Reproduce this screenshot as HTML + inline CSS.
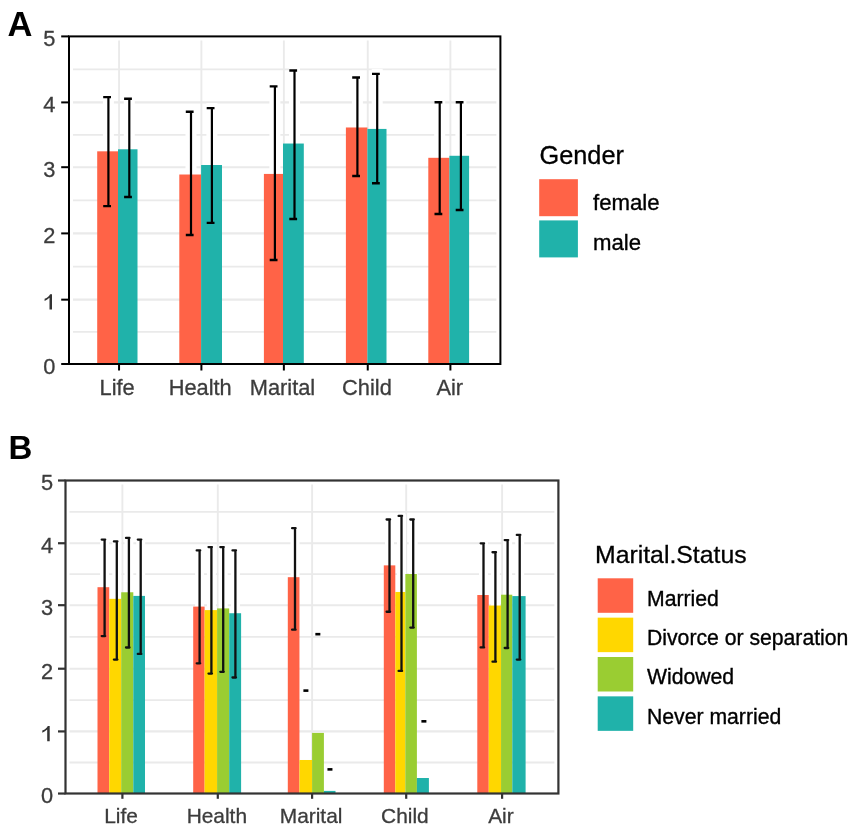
<!DOCTYPE html>
<html><head><meta charset="utf-8"><style>
html,body{margin:0;padding:0;background:#fff;}
body{width:854px;height:833px;overflow:hidden;}
svg{display:block;filter:blur(0.45px);}
text{font-family:"Liberation Sans",sans-serif;}
.ax{font-size:21.8px;fill:#3c3c3c;stroke:#3c3c3c;stroke-width:0.3px;}
.axb{font-size:20.9px;fill:#3c3c3c;stroke:#3c3c3c;stroke-width:0.3px;}
.tag{font-size:33px;font-weight:bold;fill:#000;}
.tagA{font-size:34.5px;font-weight:bold;fill:#000;}
.lt{font-size:25.3px;fill:#000;stroke:#000;stroke-width:0.3px;}
.ll{font-size:22.2px;fill:#000;stroke:#000;stroke-width:0.35px;}
.lt2{font-size:24.8px;fill:#000;stroke:#000;stroke-width:0.3px;}
.ll2{font-size:21.2px;fill:#000;stroke:#000;stroke-width:0.35px;}
</style></head><body>
<svg width="854" height="833" viewBox="0 0 854 833">
<rect width="854" height="833" fill="#fff"/>
<line x1="73" y1="331.83" x2="496.4" y2="331.83" stroke="#eaeaea" stroke-width="1.8"/>
<line x1="73" y1="299.66" x2="496.4" y2="299.66" stroke="#eaeaea" stroke-width="2.1"/>
<line x1="73" y1="266.53" x2="496.4" y2="266.53" stroke="#eaeaea" stroke-width="1.8"/>
<line x1="73" y1="233.4" x2="496.4" y2="233.4" stroke="#eaeaea" stroke-width="2.1"/>
<line x1="73" y1="200.3" x2="496.4" y2="200.3" stroke="#eaeaea" stroke-width="1.8"/>
<line x1="73" y1="167.2" x2="496.4" y2="167.2" stroke="#eaeaea" stroke-width="2.1"/>
<line x1="73" y1="134.8" x2="496.4" y2="134.8" stroke="#eaeaea" stroke-width="1.8"/>
<line x1="73" y1="102.4" x2="496.4" y2="102.4" stroke="#eaeaea" stroke-width="2.1"/>
<line x1="73" y1="69.4" x2="496.4" y2="69.4" stroke="#eaeaea" stroke-width="1.8"/>
<line x1="119.05" y1="40.4" x2="119.05" y2="360" stroke="#eaeaea" stroke-width="1.9"/>
<line x1="201.4" y1="40.4" x2="201.4" y2="360" stroke="#eaeaea" stroke-width="1.9"/>
<line x1="283.87" y1="40.4" x2="283.87" y2="360" stroke="#eaeaea" stroke-width="1.9"/>
<line x1="367.75" y1="40.4" x2="367.75" y2="360" stroke="#eaeaea" stroke-width="1.9"/>
<line x1="450.4" y1="40.4" x2="450.4" y2="360" stroke="#eaeaea" stroke-width="1.9"/>
<rect x="102.9" y="92.09" width="11" height="119.06" fill="#fff"/>
<rect x="123.8" y="93.73" width="11" height="108.25" fill="#fff"/>
<rect x="185.5" y="106.82" width="11" height="133.14" fill="#fff"/>
<rect x="206.4" y="103.09" width="11" height="124.76" fill="#fff"/>
<rect x="269.4" y="81.41" width="11" height="183.58" fill="#fff"/>
<rect x="289" y="65.56" width="11" height="158.42" fill="#fff"/>
<rect x="351.9" y="72.57" width="11" height="108.45" fill="#fff"/>
<rect x="371.7" y="68.84" width="11" height="119.38" fill="#fff"/>
<rect x="434.2" y="97.26" width="11" height="121.74" fill="#fff"/>
<rect x="455.4" y="97.26" width="11" height="117.81" fill="#fff"/>
<rect x="97.2" y="151.32" width="20.8" height="212.68" fill="#FF6347"/>
<rect x="118" y="149.29" width="19.5" height="214.71" fill="#20B2AA"/>
<rect x="179.3" y="174.51" width="21.8" height="189.49" fill="#FF6347"/>
<rect x="201.1" y="165.01" width="20.9" height="198.99" fill="#20B2AA"/>
<rect x="263.9" y="173.92" width="19.1" height="190.08" fill="#FF6347"/>
<rect x="283" y="143.53" width="20.8" height="220.47" fill="#20B2AA"/>
<rect x="345.9" y="127.48" width="21.5" height="236.52" fill="#FF6347"/>
<rect x="367.4" y="128.92" width="19.1" height="235.08" fill="#20B2AA"/>
<rect x="428.3" y="157.81" width="21.1" height="206.19" fill="#FF6347"/>
<rect x="449.4" y="155.78" width="19.7" height="208.22" fill="#20B2AA"/>
<path d="M108.4 97.09V206.14" stroke="#000" stroke-width="2.2" fill="none"/>
<path d="M103.2 97.09H111M103.2 206.14H111" stroke="#000" stroke-width="2.4" fill="none"/>
<path d="M129.3 98.73V196.98" stroke="#000" stroke-width="2.2" fill="none"/>
<path d="M124.1 98.73H131.9M124.1 196.98H131.9" stroke="#000" stroke-width="2.4" fill="none"/>
<path d="M191 111.82V234.97" stroke="#000" stroke-width="2.2" fill="none"/>
<path d="M185.8 111.82H193.6M185.8 234.97H193.6" stroke="#000" stroke-width="2.4" fill="none"/>
<path d="M211.9 108.09V222.85" stroke="#000" stroke-width="2.2" fill="none"/>
<path d="M206.7 108.09H214.5M206.7 222.85H214.5" stroke="#000" stroke-width="2.4" fill="none"/>
<path d="M274.9 86.41V259.99" stroke="#000" stroke-width="2.2" fill="none"/>
<path d="M269.7 86.41H277.5M269.7 259.99H277.5" stroke="#000" stroke-width="2.4" fill="none"/>
<path d="M294.5 70.56V218.98" stroke="#000" stroke-width="2.2" fill="none"/>
<path d="M289.3 70.56H297.1M289.3 218.98H297.1" stroke="#000" stroke-width="2.4" fill="none"/>
<path d="M357.4 77.57V176.01" stroke="#000" stroke-width="2.2" fill="none"/>
<path d="M352.2 77.57H360M352.2 176.01H360" stroke="#000" stroke-width="2.4" fill="none"/>
<path d="M377.2 73.84V183.22" stroke="#000" stroke-width="2.2" fill="none"/>
<path d="M372 73.84H379.8M372 183.22H379.8" stroke="#000" stroke-width="2.4" fill="none"/>
<path d="M439.7 102.26V214" stroke="#000" stroke-width="2.2" fill="none"/>
<path d="M434.5 102.26H442.3M434.5 214H442.3" stroke="#000" stroke-width="2.4" fill="none"/>
<path d="M460.9 102.26V210.07" stroke="#000" stroke-width="2.2" fill="none"/>
<path d="M455.7 102.26H463.5M455.7 210.07H463.5" stroke="#000" stroke-width="2.4" fill="none"/>
<rect x="69" y="36.4" width="431.4" height="327.6" fill="none" stroke="#000" stroke-width="2"/>
<line x1="61.2" y1="364" x2="69" y2="364" stroke="#000" stroke-width="2"/>
<text x="55.3" y="373.9" text-anchor="end" class="ax">0</text>
<line x1="61.2" y1="299.66" x2="69" y2="299.66" stroke="#000" stroke-width="2"/>
<path d="M49.5 309.56H52V294.16H50.1C49.4 295.96 47.4 297.66 44.6 298.76V300.96C46.4 300.26 48.3 298.96 49.5 297.86Z" fill="#333"/>
<line x1="61.2" y1="233.4" x2="69" y2="233.4" stroke="#000" stroke-width="2"/>
<text x="55.3" y="243.3" text-anchor="end" class="ax">2</text>
<line x1="61.2" y1="167.2" x2="69" y2="167.2" stroke="#000" stroke-width="2"/>
<text x="55.3" y="177.1" text-anchor="end" class="ax">3</text>
<line x1="61.2" y1="102.4" x2="69" y2="102.4" stroke="#000" stroke-width="2"/>
<text x="55.3" y="112.3" text-anchor="end" class="ax">4</text>
<line x1="61.2" y1="36.4" x2="69" y2="36.4" stroke="#000" stroke-width="2"/>
<text x="55.3" y="46.3" text-anchor="end" class="ax">5</text>
<line x1="119.05" y1="364" x2="119.05" y2="370.5" stroke="#000" stroke-width="2"/>
<text x="117.15" y="395.4" text-anchor="middle" class="ax">Life</text>
<line x1="201.4" y1="364" x2="201.4" y2="370.5" stroke="#000" stroke-width="2"/>
<text x="200.15" y="395.4" text-anchor="middle" class="ax">Health</text>
<line x1="283.87" y1="364" x2="283.87" y2="370.5" stroke="#000" stroke-width="2"/>
<text x="282.47" y="395.4" text-anchor="middle" class="ax">Marital</text>
<line x1="367.75" y1="364" x2="367.75" y2="370.5" stroke="#000" stroke-width="2"/>
<text x="366.95" y="395.4" text-anchor="middle" class="ax">Child</text>
<line x1="450.4" y1="364" x2="450.4" y2="370.5" stroke="#000" stroke-width="2"/>
<text x="449.75" y="395.4" text-anchor="middle" class="ax">Air</text>
<text x="7.4" y="35.8" class="tagA">A</text>
<text x="539.5" y="163.9" class="lt">Gender</text>
<rect x="539.2" y="179.2" width="38.7" height="37" fill="#FF6347"/>
<rect x="539.2" y="220.4" width="38.7" height="37" fill="#20B2AA"/>
<text x="593" y="209.5" class="ll">female</text>
<text x="593" y="249.6" class="ll">male</text>
<line x1="69.5" y1="762.48" x2="554.4" y2="762.48" stroke="#eaeaea" stroke-width="1.8"/>
<line x1="69.5" y1="731.42" x2="554.4" y2="731.42" stroke="#eaeaea" stroke-width="2.1"/>
<line x1="69.5" y1="700.07" x2="554.4" y2="700.07" stroke="#eaeaea" stroke-width="1.8"/>
<line x1="69.5" y1="668.71" x2="554.4" y2="668.71" stroke="#eaeaea" stroke-width="2.1"/>
<line x1="69.5" y1="636.95" x2="554.4" y2="636.95" stroke="#eaeaea" stroke-width="1.8"/>
<line x1="69.5" y1="605.19" x2="554.4" y2="605.19" stroke="#eaeaea" stroke-width="2.1"/>
<line x1="69.5" y1="574.22" x2="554.4" y2="574.22" stroke="#eaeaea" stroke-width="1.8"/>
<line x1="69.5" y1="543.24" x2="554.4" y2="543.24" stroke="#eaeaea" stroke-width="2.1"/>
<line x1="69.5" y1="511.87" x2="554.4" y2="511.87" stroke="#eaeaea" stroke-width="1.8"/>
<line x1="122.4" y1="484.5" x2="122.4" y2="789.5" stroke="#eaeaea" stroke-width="1.9"/>
<line x1="217.8" y1="484.5" x2="217.8" y2="789.5" stroke="#eaeaea" stroke-width="1.9"/>
<line x1="312.1" y1="484.5" x2="312.1" y2="789.5" stroke="#eaeaea" stroke-width="1.9"/>
<line x1="406.2" y1="484.5" x2="406.2" y2="789.5" stroke="#eaeaea" stroke-width="1.9"/>
<line x1="502.1" y1="484.5" x2="502.1" y2="789.5" stroke="#eaeaea" stroke-width="1.9"/>
<rect x="100.1" y="538.09" width="9" height="99.53" fill="#fff"/>
<rect x="112.3" y="539.91" width="9" height="121.18" fill="#fff"/>
<rect x="124.4" y="536.4" width="9" height="112.61" fill="#fff"/>
<rect x="136.2" y="538.09" width="9" height="117.3" fill="#fff"/>
<rect x="195.1" y="548.92" width="9" height="115.86" fill="#fff"/>
<rect x="206.9" y="545.6" width="9" height="129.5" fill="#fff"/>
<rect x="218.7" y="545.6" width="9" height="127.68" fill="#fff"/>
<rect x="230.9" y="548.92" width="9" height="130.06" fill="#fff"/>
<rect x="290.5" y="526.65" width="9" height="104.53" fill="#fff"/>
<rect x="301.4" y="689.11" width="9" height="3" fill="#fff"/>
<rect x="313.35" y="632.68" width="9" height="3" fill="#fff"/>
<rect x="325.45" y="767.88" width="9" height="3" fill="#fff"/>
<rect x="385" y="518.01" width="9" height="95.21" fill="#fff"/>
<rect x="397" y="514.38" width="9" height="158.02" fill="#fff"/>
<rect x="408.7" y="518.01" width="9" height="111.1" fill="#fff"/>
<rect x="419.4" y="719.83" width="9" height="3" fill="#fff"/>
<rect x="479" y="541.85" width="9" height="107.04" fill="#fff"/>
<rect x="490.9" y="550.73" width="9" height="112.48" fill="#fff"/>
<rect x="503.1" y="538.59" width="9" height="110.92" fill="#fff"/>
<rect x="515.2" y="533.4" width="9" height="127.68" fill="#fff"/>
<rect x="97.5" y="587.2" width="11.73" height="206.3" fill="#FF6347"/>
<rect x="109.23" y="598.84" width="11.97" height="194.66" fill="#FFD700"/>
<rect x="121.2" y="592.27" width="12.1" height="201.23" fill="#9ACD32"/>
<rect x="133.3" y="595.9" width="11.7" height="197.6" fill="#20B2AA"/>
<rect x="193.2" y="606.6" width="11.4" height="186.9" fill="#FF6347"/>
<rect x="204.6" y="610.1" width="12.5" height="183.4" fill="#FFD700"/>
<rect x="217.1" y="608.41" width="12.1" height="185.09" fill="#9ACD32"/>
<rect x="229.2" y="613.23" width="11.9" height="180.27" fill="#20B2AA"/>
<rect x="287.8" y="577.19" width="11.66" height="216.31" fill="#FF6347"/>
<rect x="299.46" y="759.99" width="12.64" height="33.51" fill="#FFD700"/>
<rect x="312.1" y="732.9" width="11.8" height="60.6" fill="#9ACD32"/>
<rect x="323.9" y="790.9" width="11.6" height="2.6" fill="#20B2AA"/>
<rect x="383.8" y="565.37" width="11.5" height="228.13" fill="#FF6347"/>
<rect x="395.3" y="591.96" width="10.05" height="201.54" fill="#FFD700"/>
<rect x="405.35" y="574" width="11.55" height="219.5" fill="#9ACD32"/>
<rect x="416.9" y="778.01" width="12" height="15.49" fill="#20B2AA"/>
<rect x="477.3" y="595.02" width="11.45" height="198.48" fill="#FF6347"/>
<rect x="488.75" y="605.53" width="12.3" height="187.97" fill="#FFD700"/>
<rect x="501.05" y="594.71" width="11.25" height="198.79" fill="#9ACD32"/>
<rect x="512.3" y="596.09" width="13.3" height="197.41" fill="#20B2AA"/>
<path d="M104.6 539.59V636.12M101.7 539.59H105.2M101.7 636.12H105.2" stroke="#111" stroke-width="2.3" stroke-linecap="round" fill="none"/>
<path d="M116.8 541.41V659.58M113.9 541.41H117.4M113.9 659.58H117.4" stroke="#111" stroke-width="2.3" stroke-linecap="round" fill="none"/>
<path d="M128.9 537.9V647.51M126 537.9H129.5M126 647.51H129.5" stroke="#111" stroke-width="2.3" stroke-linecap="round" fill="none"/>
<path d="M140.7 539.59V653.89M137.8 539.59H141.3M137.8 653.89H141.3" stroke="#111" stroke-width="2.3" stroke-linecap="round" fill="none"/>
<path d="M199.6 550.42V663.28M196.7 550.42H200.2M196.7 663.28H200.2" stroke="#111" stroke-width="2.3" stroke-linecap="round" fill="none"/>
<path d="M211.4 547.1V673.6M208.5 547.1H212M208.5 673.6H212" stroke="#111" stroke-width="2.3" stroke-linecap="round" fill="none"/>
<path d="M223.2 547.1V671.78M220.3 547.1H223.8M220.3 671.78H223.8" stroke="#111" stroke-width="2.3" stroke-linecap="round" fill="none"/>
<path d="M235.4 550.42V677.48M232.5 550.42H236M232.5 677.48H236" stroke="#111" stroke-width="2.3" stroke-linecap="round" fill="none"/>
<path d="M295 528.15V629.68M292.1 528.15H295.6M292.1 629.68H295.6" stroke="#111" stroke-width="2.3" stroke-linecap="round" fill="none"/>
<line x1="303.4" y1="690.61" x2="308.4" y2="690.61" stroke="#000" stroke-width="2.6"/>
<line x1="315.35" y1="634.18" x2="320.35" y2="634.18" stroke="#000" stroke-width="2.6"/>
<line x1="327.45" y1="769.38" x2="332.45" y2="769.38" stroke="#000" stroke-width="2.6"/>
<path d="M389.5 519.51V611.73M386.6 519.51H390.1M386.6 611.73H390.1" stroke="#111" stroke-width="2.3" stroke-linecap="round" fill="none"/>
<path d="M401.5 515.88V670.91M398.6 515.88H402.1M398.6 670.91H402.1" stroke="#111" stroke-width="2.3" stroke-linecap="round" fill="none"/>
<path d="M413.2 519.51V627.62M410.3 519.51H413.8M410.3 627.62H413.8" stroke="#111" stroke-width="2.3" stroke-linecap="round" fill="none"/>
<line x1="421.4" y1="721.33" x2="426.4" y2="721.33" stroke="#000" stroke-width="2.6"/>
<path d="M483.5 543.35V647.38M480.6 543.35H484.1M480.6 647.38H484.1" stroke="#111" stroke-width="2.3" stroke-linecap="round" fill="none"/>
<path d="M495.4 552.23V661.71M492.5 552.23H496M492.5 661.71H496" stroke="#111" stroke-width="2.3" stroke-linecap="round" fill="none"/>
<path d="M507.6 540.09V648.01M504.7 540.09H508.2M504.7 648.01H508.2" stroke="#111" stroke-width="2.3" stroke-linecap="round" fill="none"/>
<path d="M519.7 534.9V659.58M516.8 534.9H520.3M516.8 659.58H520.3" stroke="#111" stroke-width="2.3" stroke-linecap="round" fill="none"/>
<rect x="65.5" y="480.5" width="492.9" height="313" fill="none" stroke="#333" stroke-width="2.2"/>
<line x1="58" y1="793.54" x2="65.5" y2="793.54" stroke="#333" stroke-width="2.2"/>
<text x="53" y="803.44" text-anchor="end" class="ax">0</text>
<line x1="58" y1="731.42" x2="65.5" y2="731.42" stroke="#333" stroke-width="2.2"/>
<path d="M47.2 741.32H49.7V725.92H47.8C47.1 727.72 45.1 729.42 42.3 730.52V732.72C44.1 732.02 46 730.72 47.2 729.62Z" fill="#333"/>
<line x1="58" y1="668.71" x2="65.5" y2="668.71" stroke="#333" stroke-width="2.2"/>
<text x="53" y="678.61" text-anchor="end" class="ax">2</text>
<line x1="58" y1="605.19" x2="65.5" y2="605.19" stroke="#333" stroke-width="2.2"/>
<text x="53" y="615.09" text-anchor="end" class="ax">3</text>
<line x1="58" y1="543.24" x2="65.5" y2="543.24" stroke="#333" stroke-width="2.2"/>
<text x="53" y="553.14" text-anchor="end" class="ax">4</text>
<line x1="58" y1="480.5" x2="65.5" y2="480.5" stroke="#333" stroke-width="2.2"/>
<text x="53" y="490.4" text-anchor="end" class="ax">5</text>
<line x1="122.4" y1="793.5" x2="122.4" y2="798.8" stroke="#333" stroke-width="2.2"/>
<text x="121.05" y="823.3" text-anchor="middle" class="axb">Life</text>
<line x1="217.8" y1="793.5" x2="217.8" y2="798.8" stroke="#333" stroke-width="2.2"/>
<text x="216.85" y="823.3" text-anchor="middle" class="axb">Health</text>
<line x1="312.1" y1="793.5" x2="312.1" y2="798.8" stroke="#333" stroke-width="2.2"/>
<text x="311.1" y="823.3" text-anchor="middle" class="axb">Marital</text>
<line x1="406.2" y1="793.5" x2="406.2" y2="798.8" stroke="#333" stroke-width="2.2"/>
<text x="404.9" y="823.3" text-anchor="middle" class="axb">Child</text>
<line x1="502.1" y1="793.5" x2="502.1" y2="798.8" stroke="#333" stroke-width="2.2"/>
<text x="500.9" y="823.3" text-anchor="middle" class="axb">Air</text>
<text x="8.6" y="458.6" class="tag">B</text>
<text x="595" y="563.1" class="lt2">Marital.Status</text>
<rect x="597.7" y="578.3" width="35.5" height="34.5" fill="#FF6347"/>
<text x="647" y="605.5" class="ll2">Married</text>
<rect x="597.7" y="617.65" width="35.5" height="34.5" fill="#FFD700"/>
<text x="647" y="644.9" class="ll2">Divorce or separation</text>
<rect x="597.7" y="657" width="35.5" height="34.5" fill="#9ACD32"/>
<text x="647" y="684.3" class="ll2">Widowed</text>
<rect x="597.7" y="696.35" width="35.5" height="34.5" fill="#20B2AA"/>
<text x="647" y="723.7" class="ll2">Never married</text>
</svg>
</body></html>
